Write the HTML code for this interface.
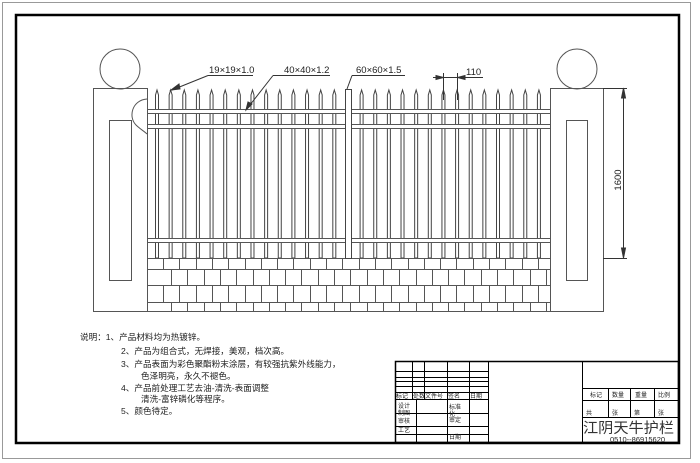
<!DOCTYPE html>
<html><head><meta charset="utf-8"><style>
html,body{margin:0;padding:0;background:#fff}
svg{display:block}
text{font-family:"Liberation Sans","Noto Sans CJK SC",sans-serif;fill:#222}
</style></head><body>
<svg width="700" height="463" viewBox="0 0 700 463" xmlns="http://www.w3.org/2000/svg">
<rect x="2.5" y="2.5" width="688" height="456" fill="none" stroke="#999" stroke-width="1"/>
<rect x="16" y="15" width="663" height="428" fill="none" stroke="#000" stroke-width="2.5"/>
<g id="pickets" stroke="#444" stroke-width="1"></g>
<g stroke="#555" stroke-width="1" fill="none">
<rect x="93.5" y="88.5" width="54" height="223" fill="#fff"/>
<rect x="109.5" y="120.5" width="22" height="160"/>
<circle cx="120" cy="69" r="20"/>
<rect x="550.5" y="88.5" width="53" height="223" fill="#fff"/>
<rect x="566.5" y="120.5" width="21" height="160"/>
<circle cx="577" cy="69" r="20"/>
<path d="M147 99 C132 100 128 117 136 125 C140 129 144 131 147 134"/>
<rect x="147.5" y="109.5" width="403" height="4" fill="#fff"/>
<rect x="147.5" y="124.5" width="403" height="4" fill="#fff"/>
<rect x="147.5" y="238.5" width="403" height="4" fill="#fff"/>
<line x1="147" y1="258.5" x2="550" y2="258.5"/>
<line x1="147" y1="269.5" x2="550" y2="269.5"/>
<line x1="147" y1="285.5" x2="550" y2="285.5"/>
<line x1="147" y1="302.5" x2="550" y2="302.5"/>
<line x1="93" y1="311.5" x2="603" y2="311.5"/>
</g>
<g stroke="#555" stroke-width="1" id="bricks"></g>
<rect x="345.5" y="89.5" width="6" height="169" fill="#fff" stroke="#444"/>
<g stroke="#333" stroke-width="1" fill="#333">
<line x1="603" y1="88.5" x2="627" y2="88.5"/>
<line x1="603" y1="258.5" x2="627" y2="258.5"/>
<line x1="623.5" y1="88" x2="623.5" y2="258"/>
<polygon points="623.5,88 621.5,98 625.5,98"/>
<polygon points="623.5,258 621.5,248 625.5,248"/>
<line x1="443.5" y1="73" x2="443.5" y2="100"/>
<line x1="457.5" y1="73" x2="457.5" y2="100"/>
<line x1="433" y1="77.5" x2="483" y2="77.5"/>
<polygon points="443.5,77.5 436,75.5 436,79.5"/>
<polygon points="457.5,77.5 465,75.5 465,79.5"/>
<line x1="208" y1="75.5" x2="253" y2="75.5"/>
<line x1="208" y1="75.5" x2="172" y2="90"/>
<polygon points="171,90 179,84 180,89"/>
<line x1="273" y1="75.5" x2="330" y2="75.5"/>
<line x1="273" y1="75.5" x2="246" y2="110"/>
<polygon points="246,110 248,102 252,104"/>
<line x1="352" y1="75.5" x2="405" y2="75.5"/>
<line x1="352" y1="75.5" x2="347" y2="89"/>
</g>
<g font-size="9.5">
<text x="209" y="73">19×19×1.0</text>
<text x="284" y="73">40×40×1.2</text>
<text x="356" y="73">60×60×1.5</text>
<text x="466" y="75">110</text>
<text transform="translate(621,180) rotate(-90)" text-anchor="middle">1600</text>
</g>
<g font-size="8.6">
<text x="80" y="340">说明：1、产品材料均为热镀锌。</text>
<text x="121" y="354">2、产品为组合式，无焊接，美观，档次高。</text>
<text x="121" y="367">3、产品表面为彩色聚酯粉末涂层，有较强抗紫外线能力，</text>
<text x="141" y="379">色泽明亮，永久不褪色。</text>
<text x="121" y="391">4、产品前处理工艺去油-清洗-表面调整</text>
<text x="141" y="402">清洗-富锌磷化等程序。</text>
<text x="121" y="414">5、颜色待定。</text>
</g>
<g stroke="#000" stroke-width="1" fill="none">
<rect x="395.5" y="361.5" width="283" height="81" stroke-width="1.5"/>
<line x1="488.5" y1="361" x2="488.5" y2="443"/>
<line x1="582.5" y1="361" x2="582.5" y2="443"/>
<line x1="412.5" y1="361" x2="412.5" y2="399"/>
<line x1="424.5" y1="361" x2="424.5" y2="399"/>
<line x1="447.5" y1="361" x2="447.5" y2="443"/>
<line x1="469.5" y1="361" x2="469.5" y2="443"/>
<line x1="416.5" y1="399" x2="416.5" y2="443"/>
<line x1="395" y1="371.5" x2="488" y2="371.5"/>
<line x1="395" y1="377.5" x2="488" y2="377.5"/>
<line x1="395" y1="381.5" x2="488" y2="381.5"/>
<line x1="395" y1="386.5" x2="488" y2="386.5"/>
<line x1="395" y1="392.5" x2="488" y2="392.5"/>
<line x1="395" y1="399.5" x2="488" y2="399.5"/>
<line x1="395" y1="413.5" x2="488" y2="413.5"/>
<line x1="395" y1="426.5" x2="488" y2="426.5"/>
<line x1="395" y1="434.5" x2="488" y2="434.5"/>
<line x1="582" y1="388.5" x2="679" y2="388.5"/>
<line x1="582" y1="400.5" x2="679" y2="400.5"/>
<line x1="582" y1="417.5" x2="679" y2="417.5"/>
<line x1="608.5" y1="388" x2="608.5" y2="417"/>
<line x1="630.5" y1="388" x2="630.5" y2="417"/>
<line x1="654.5" y1="388" x2="654.5" y2="417"/>
</g>
<g font-size="6">
<text x="396" y="398">标记</text><text x="413" y="398">处数</text><text x="425" y="398">文件号</text><text x="448" y="398">签名</text><text x="470" y="398">日期</text>
<text x="398" y="408">设计</text><text x="398" y="415">制图</text><text x="398" y="423">审核</text><text x="398" y="432">工艺</text>
<text x="449" y="409">标准</text><text x="449" y="416">化</text><text x="449" y="422">审定</text><text x="449" y="439">日期</text>
<text x="590" y="397">标记</text><text x="612" y="397">数量</text><text x="635" y="397">重量</text><text x="658" y="397">比例</text>
<text x="586" y="415">共</text><text x="612" y="415">张</text><text x="634" y="415">第</text><text x="658" y="415">张</text>
</g>
<text x="583" y="433" font-size="14.5" textLength="91" lengthAdjust="spacingAndGlyphs" style="fill:#333">江阴天牛护栏</text>
<text x="610" y="442" font-size="7.5">0510--86915620</text>
<script>
var ns="http://www.w3.org/2000/svg";
var p=document.getElementById("pickets");
for(var i=0;i<29;i++){if(i==14)continue;var x=155.5+i*13.64;
var r=document.createElementNS(ns,"path");
r.setAttribute("d","M"+x+" 258 V95 L"+(x+1.5)+" 90 L"+(x+3)+" 95 V258 Z");
r.setAttribute("fill","#fff");p.appendChild(r);}
var b=document.getElementById("bricks");
var rows=[[258,269,0],[269,285,8],[285,302,0],[302,311,8]];
rows.forEach(function(rw){for(var x=147+16+rw[2];x<550;x+=16.3){var l=document.createElementNS(ns,"line");
var xx=Math.round(x)+0.5;l.setAttribute("x1",xx);l.setAttribute("x2",xx);l.setAttribute("y1",rw[0]);l.setAttribute("y2",rw[1]);b.appendChild(l);}});
</script>
</svg>
</body></html>
